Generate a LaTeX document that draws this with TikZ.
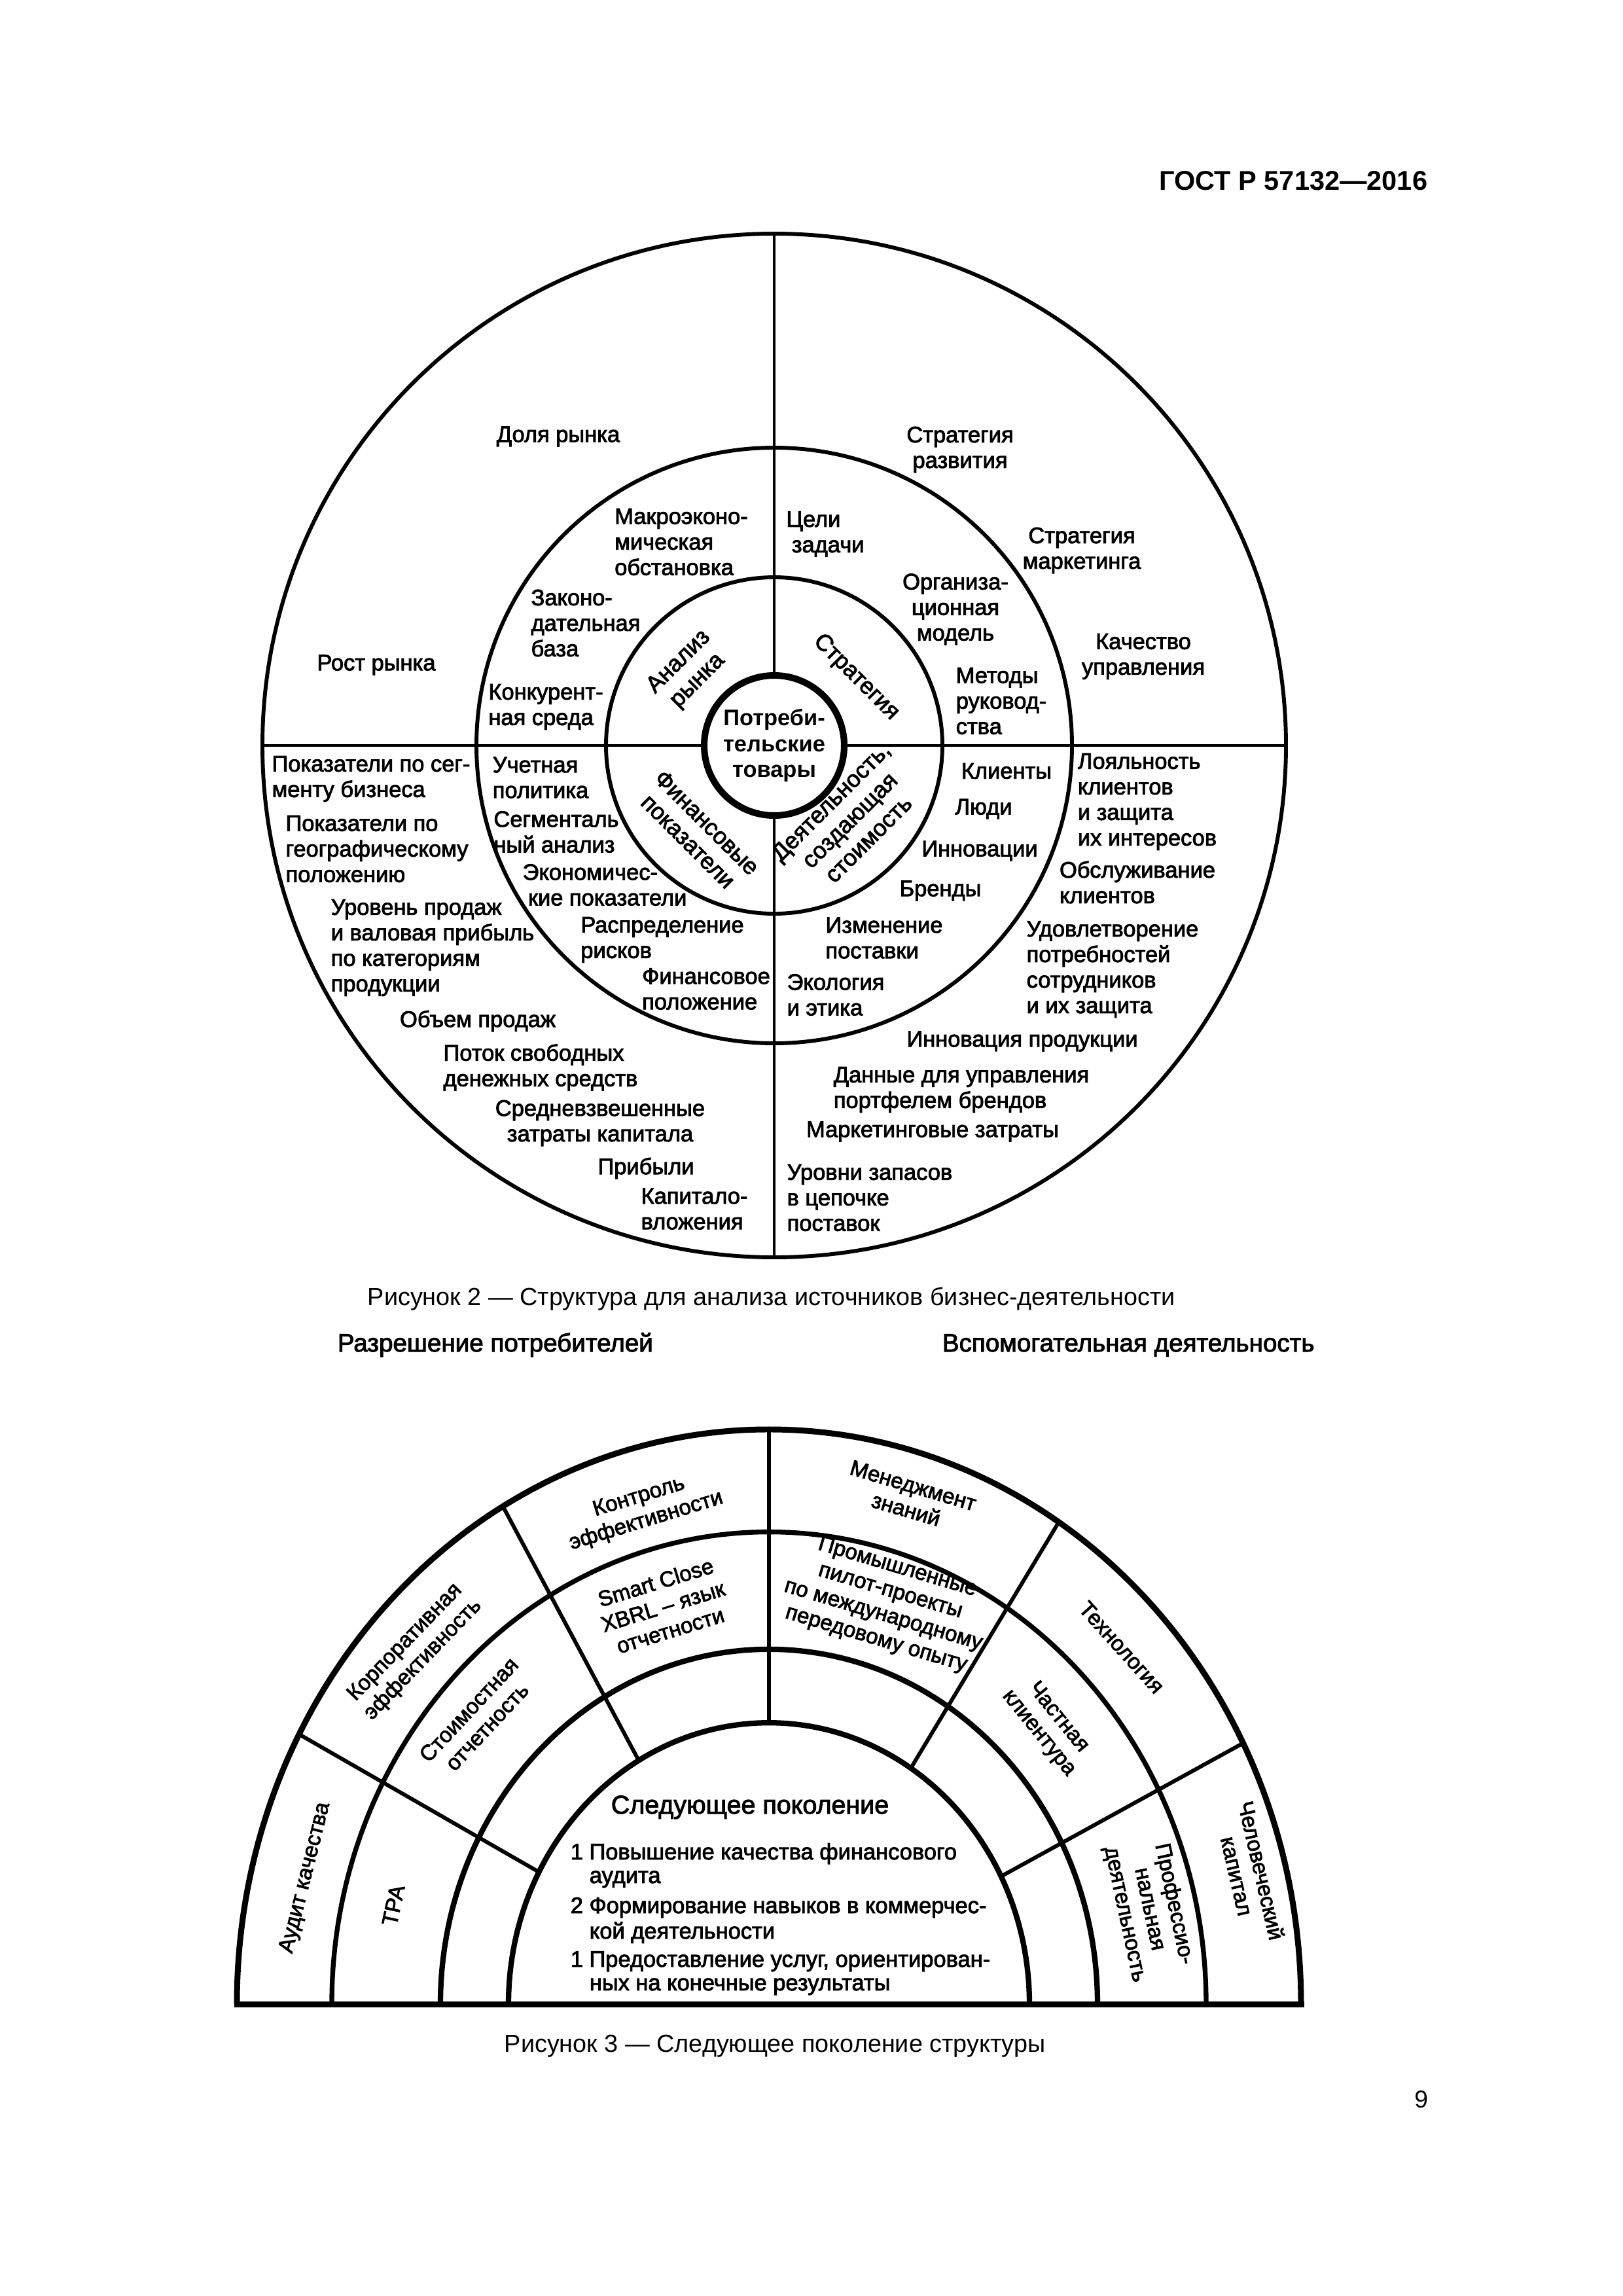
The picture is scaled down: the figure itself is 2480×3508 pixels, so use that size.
\documentclass[tikz,border=0pt]{standalone}
\usepackage{fontspec}
\setmainfont{Liberation Sans}
\newfontfamily\figfont{Liberation Sans}[FakeBold=2.5]
\begin{document}
\begin{tikzpicture}[x=0.0846667mm,y=0.0846667mm,
  tx/.style={font=\figfont\fontsize{8.3}{9.4}\selectfont, inner sep=0pt, align=center},
  txl/.style={tx, align=left},
  txr/.style={font=\figfont\fontsize{8.6}{9.8}\selectfont, inner sep=0pt, align=center},
  txb/.style={font=\figfont\fontsize{8}{9.2}\selectfont, inner sep=0pt, align=center},
  lst/.style={font=\figfont\fontsize{8.3}{9.4}\selectfont, inner sep=0pt, anchor=base west},
  captext/.style={font=\fontsize{9.1}{11}\selectfont, inner sep=0pt, anchor=base west},
  ringline/.style={line width=0.5mm},
  crossline/.style={line width=0.42mm},
  corering/.style={line width=0.85mm},
  arcline/.style={line width=0.7mm},
  spoke/.style={line width=0.5mm}
]
\fill[white] (0,0) rectangle (2480,-3508);
\useasboundingbox (0,0) rectangle (2480,-3508);

% header
\node[font=\bfseries\fontsize{10}{12}\selectfont, inner sep=0pt, anchor=base east] (hdr) at (2182,-290) {ГОСТ Р 57132—2016};

% ---------- Figure 2 ----------
\begin{scope}[shift={(1183,-1139)}]
  \draw[ringline] (0,0) circle[radius=782];
  \draw[ringline] (0,0) circle[radius=455];
  \draw[ringline] (0,0) circle[radius=257];
  \draw[corering] (0,0) circle[radius=107];
  \draw[crossline] (0,107) -- (0,782);
  \draw[crossline] (0,-107) -- (0,-782);
  \draw[crossline] (107,0) -- (782,0);
  \draw[crossline] (-107,0) -- (-782,0);
\end{scope}

\node[tx, font=\bfseries\fontsize{8.3}{9.6}\selectfont] (core) at (1183,-1139) {Потреби-\\тельские\\товары};

% inner ring
\node[txr, rotate=45] (t1) at (1052,-1026) {Анализ\\рынка};
\node[txr, rotate=-45] (t2) at (1308,-1035) {Стратегия};
\node[txr, rotate=-45] (t3) at (1066,-1271) {Финансовые\\показатели};
\node[txr, rotate=45] (t4) at (1298,-1253) {Деятельность,\\создающая\\стоимость};

% upper left
\node[tx] (a1) at (853,-667) {Доля рынка};
\node[txl] (a2) at (1041,-828) {Макроэконо-\\мическая\\обстановка};
\node[txl] (a3) at (895,-952) {Законо-\\дательная\\база};
\node[tx] (a4) at (575,-1016) {Рост рынка};
\node[txl] (a5) at (834,-1080) {Конкурент-\\ная среда};

% upper right
\node[tx] (b1) at (1467,-687) {Стратегия\\развития};
\node[txl] (b2) at (1261,-816) {Цели\\\hspace*{0.7mm}задачи};
\node[tx] (b3) at (1653,-841) {Стратегия\\маркетинга};
\node[tx] (b4) at (1460,-931) {Организа-\\ционная\\модель};
\node[tx] (b5) at (1747,-1003) {Качество\\управления};
\node[txl] (b6) at (1530,-1071) {Методы\\руковод-\\ства};

% lower left
\node[txl] (c1) at (567,-1190) {Показатели по сег-\\менту бизнеса};
\node[txl] (c2) at (576,-1297) {Показатели по\\географическому\\положению};
\node[txl] (c3) at (661,-1448) {Уровень продаж\\и валовая прибыль\\по категориям\\продукции};
\node[tx] (c4) at (730,-1560) {Объем продаж};
\node[txl] (c5) at (826,-1631) {Поток свободных\\денежных средств};
\node[tx] (c6) at (917,-1716) {Средневзвешенные\\затраты капитала};
\node[tx] (c7) at (987,-1785) {Прибыли};
\node[txl] (c8) at (1061,-1847) {Капитало-\\вложения};
\node[txl] (c9) at (826,-1188) {Учетная\\политика};
\node[txl] (c10) at (850,-1271) {Сегменталь\\ный анализ};
\node[txl] (c11) at (924,-1352) {Экономичес-\\\hspace*{0.7mm}кие показатели};
\node[txl] (c12) at (1012,-1436) {Распределение\\рисков};
\node[txl] (c13) at (1079,-1511) {Финансовое\\положение};

% lower right
\node[tx] (d1) at (1538,-1178) {Клиенты};
\node[tx] (d2) at (1503,-1236) {Люди};
\node[tx] (d3) at (1497,-1300) {Инновации};
\node[tx] (d4) at (1437,-1361) {Бренды};
\node[txl] (d5) at (1351,-1433) {Изменение\\поставки};
\node[txl] (d6) at (1277,-1520) {Экология\\и этика};
\node[txl] (d7) at (1753,-1225) {Лояльность\\клиентов\\и защита\\их интересов};
\node[txl] (d8) at (1738,-1348) {Обслуживание\\клиентов};
\node[txl] (d9) at (1700,-1481) {Удовлетворение\\потребностей\\сотрудников\\и их защита};
\node[tx] (d10) at (1562,-1591) {Инновация продукции};
\node[txl] (d11) at (1469,-1665) {Данные для управления\\портфелем брендов};
\node[tx] (d12) at (1425,-1729) {Маркетинговые затраты};
\node[txl] (d13) at (1329,-1830) {Уровни запасов\\в цепочке\\поставок};

% captions / labels
\node[captext] (cap2) at (561,-1994) {Рисунок 2 — Структура для анализа источников бизнес-деятельности};
\node[captext, font=\figfont\fontsize{9.3}{11}\selectfont] (lblA) at (515,-2065) {Разрешение потребителей};
\node[captext, font=\figfont\fontsize{9.3}{11}\selectfont] (lblB) at (1439,-2065) {Вспомогательная деятельность};

% ---------- Figure 3 ----------
\begin{scope}[shift={(1175,-3062)}, yscale=1.08]
  \draw[arcline, line width=0.76mm] (-813,0) arc[start angle=180, end angle=0, radius=813];
  \draw[arcline, line width=0.62mm] (-668,0) arc[start angle=180, end angle=0, radius=668];
  \draw[arcline] (-502,0) arc[start angle=180, end angle=0, radius=502];
  \draw[arcline] (-398,0) arc[start angle=180, end angle=0, radius=398];
  \foreach \a in {152,120,90,57,27} \draw[spoke] (\a:398) -- (\a:813);
  \draw[line width=0.76mm, line cap=rect] (-813,0) -- (813,0);
\end{scope}

\node[txb, rotate=76] (e1) at (467,-2869) {Аудит качества};
\node[txb, rotate=78] (e2) at (601,-2911) {ТРА};
\node[txb, rotate=46] (e3) at (633,-2523) {Корпоративная\\эффективность};
\node[txb, rotate=47] (e4) at (730,-2625) {Стоимостная\\отчетность};
\node[txb, rotate=17] (e5) at (982,-2306) {Контроль\\эффективности};
\node[txb, rotate=17] (e6) at (1013,-2454) {Smart Close\\XBRL – язык\\отчетности};
\node[txb, rotate=-16.5] (e7) at (1390,-2288) {Менеджмент\\знаний};
\node[txb, rotate=-16.5] (e8) at (1355,-2450) {Промышленные\\пилот-проекты\\по международному\\передовому опыту};
\node[txb, rotate=-48] (e9) at (1714,-2517) {Технология};
\node[txb, rotate=-51] (e10) at (1602,-2636) {Частная\\клиентура};
\node[txb, rotate=-78] (e11) at (1756,-2917) {Профессио-\\нальная\\деятельность};
\node[txb, rotate=-77] (e12) at (1909,-2862) {Человеческий\\капитал};

\node[font=\figfont\fontsize{9.5}{11}\selectfont, inner sep=0pt, anchor=base] (ng) at (1146,-2771) {Следующее поколение};
\node[lst] (l1) at (871,-2841) {1 Повышение качества финансового};
\node[lst] (l2) at (900,-2877) {аудита};
\node[lst] (l3) at (871,-2923) {2 Формирование навыков в коммерчес-};
\node[lst] (l4) at (900,-2962) {кой деятельности};
\node[lst] (l5) at (871,-3005) {1 Предоставление услуг, ориентирован-};
\node[lst] (l6) at (900,-3041) {ных на конечные результаты};

\node[captext] (cap3) at (770,-3135) {Рисунок 3 — Следующее поколение структуры};
\node[font=\fontsize{9}{11}\selectfont, inner sep=0pt, anchor=base east] (pg) at (2183,-3220) {9};
\end{tikzpicture}
\end{document}
